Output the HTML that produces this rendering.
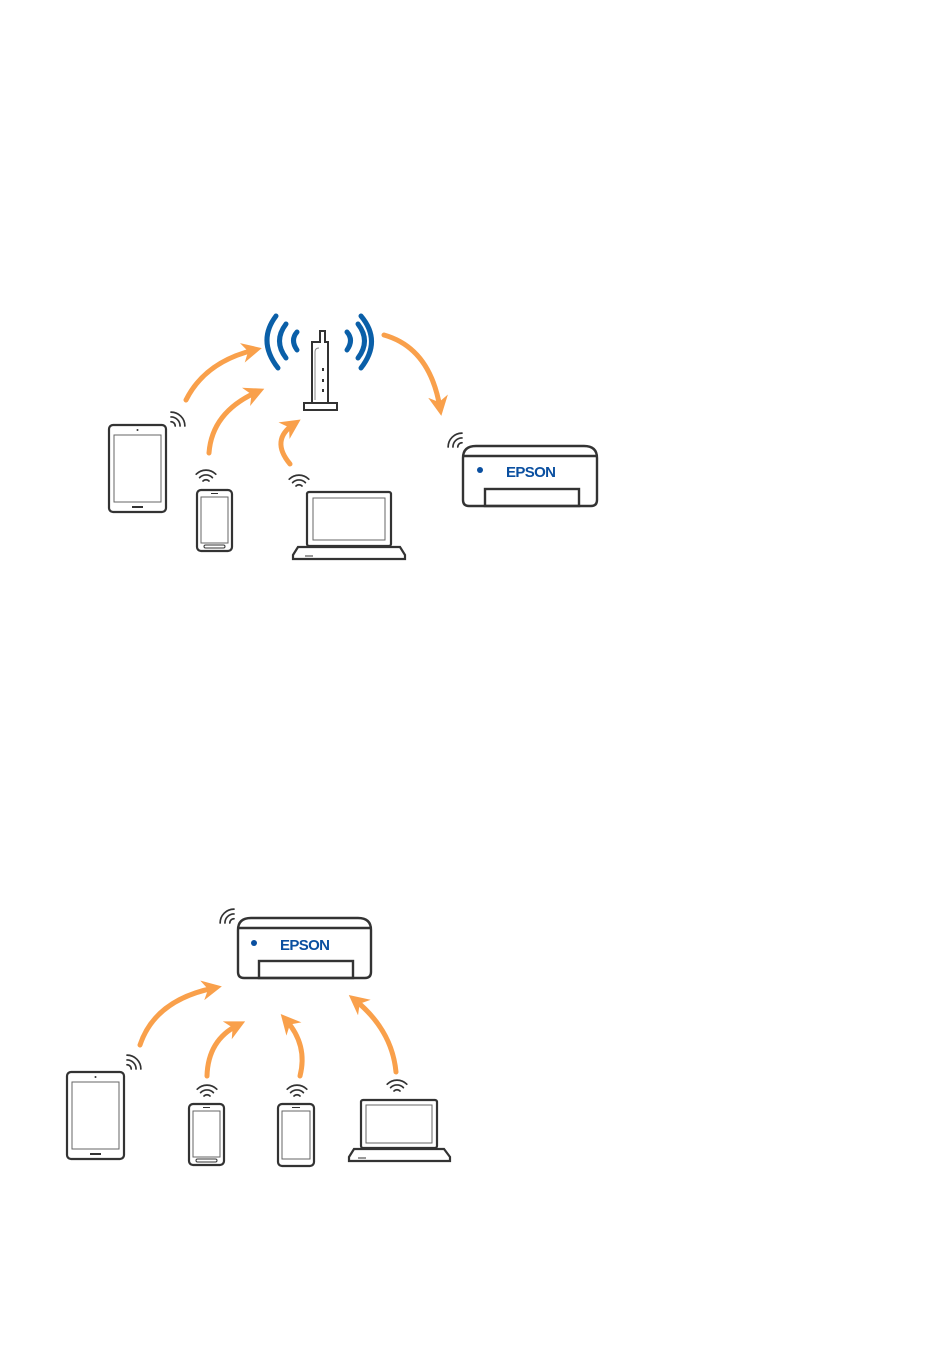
<!DOCTYPE html>
<html><head><meta charset="utf-8"><style>html,body{margin:0;padding:0;background:#fff}svg{display:block}</style></head>
<body>
<svg width="950" height="1370" viewBox="0 0 950 1370" xmlns="http://www.w3.org/2000/svg">
<defs>
<marker id="ah" viewBox="0 0 10 10" refX="6" refY="5" markerWidth="4" markerHeight="4" orient="auto" markerUnits="strokeWidth">
<path d="M0,0 L10,5 L0,10 L3,5 z" fill="#f9a04b"/>
</marker>
<g id="wf" fill="none" stroke="#333" stroke-width="1.7" stroke-linecap="round">
<path d="M-3,-3 A4.2 4.2 0 0 1 3,-3"/>
<path d="M-6.4,-6.4 A9 9 0 0 1 6.4,-6.4"/>
<path d="M-9.8,-9.8 A13.8 13.8 0 0 1 9.8,-9.8"/>
</g>
<g id="tab" fill="none" stroke="#333">
<rect x="0" y="0" width="57" height="87" rx="4" stroke-width="2.2"/>
<rect x="5" y="10" width="47" height="67" stroke-width="1" stroke="#666"/>
<circle cx="28.5" cy="5" r="1" fill="#333" stroke="none"/>
<line x1="23" y1="82" x2="34" y2="82" stroke-width="2"/>
</g>
<g id="ph" fill="none" stroke="#333">
<rect x="0" y="0" width="35" height="61" rx="4" stroke-width="2.2"/>
<rect x="4" y="7" width="27" height="46" stroke-width="1" stroke="#666"/>
<line x1="14" y1="3.5" x2="21" y2="3.5" stroke-width="1"/>
<rect x="7" y="55" width="21" height="3" rx="1.5" stroke-width="1"/>
</g>
<g id="ph2" fill="none" stroke="#333">
<rect x="0" y="0" width="36" height="62" rx="4" stroke-width="2.2"/>
<rect x="4" y="7" width="28" height="48" stroke-width="1" stroke="#666"/>
<line x1="14" y1="3.5" x2="22" y2="3.5" stroke-width="1"/>
</g>
</defs>

<!-- router -->
<g fill="none" stroke="#333" stroke-width="2">
<rect x="304" y="403" width="33" height="7" fill="#fff"/>
<path d="M312,403 L312,342 L320,342 L320,331 L325,331 L325,342 L328,342 L328,403"/>
<path d="M315,400 L315,352 Q315,348 319,348" stroke-width="1" stroke="#888"/>
</g>
<g fill="#333"><rect x="322" y="368" width="2" height="3"/><rect x="322" y="379" width="2" height="3"/><rect x="322" y="389" width="2" height="3"/></g>
<g fill="none" stroke="#0a5fa8" stroke-width="5" stroke-linecap="round">
<path d="M297,332 Q290,340 297,350"/>
<path d="M286,324 Q273,341 286,358"/>
<path d="M276,316 Q257,341 278,368"/>
<path d="M347,332 Q354,340 347,350"/>
<path d="M358,324 Q371,341 358,358"/>
<path d="M361,316 Q382,341 361,368"/>
</g>
<g fill="none" stroke="#f9a04b" stroke-width="5" stroke-linecap="round">
<path d="M186,400 Q205,362 254,350" marker-end="url(#ah)"/>
<path d="M209,453 Q212,412 257,392" marker-end="url(#ah)"/>
<path d="M290,464 Q270,440 294,424" marker-end="url(#ah)"/>
<path d="M384,335 Q430,348 440,408" marker-end="url(#ah)"/>
</g>
<use href="#tab" x="109" y="425"/>
<use href="#ph" x="197" y="490"/>
<g fill="none" stroke="#333">
<rect x="307" y="492" width="84" height="54" rx="2" stroke-width="2.2"/>
<rect x="313" y="498" width="72" height="42" stroke-width="1" stroke="#666"/>
<path d="M298,547 L400,547 L405,555 L405,559 L293,559 L293,555 Z" stroke-width="2.2"/>
<line x1="305" y1="556" x2="313" y2="556" stroke-width="1"/>
</g>
<g fill="none" stroke="#333" stroke-width="2.4">
<path d="M463,500 L463,458 Q463,446 476,446 L584,446 Q597,446 597,458 L597,500 Q597,506 591,506 L469,506 Q463,506 463,500 Z"/>
<line x1="463" y1="456" x2="597" y2="456"/>
<rect x="485" y="489" width="94" height="17"/>
</g>
<circle cx="480" cy="470" r="3" fill="#0a4fa0"/>
<text x="531" y="477" text-anchor="middle" font-family="Liberation Sans, sans-serif" font-weight="bold" font-size="15" fill="#0a4fa0" textLength="50">EPSON</text>
<use href="#wf" transform="translate(171,426) rotate(45)"/>
<use href="#wf" transform="translate(206,484)"/>
<use href="#wf" transform="translate(299,489)"/>
<use href="#wf" transform="translate(462,447) rotate(-45)"/>

<!-- bottom -->
<g fill="none" stroke="#333" stroke-width="2.4">
<path d="M238,972 L238,930 Q238,918 251,918 L358,918 Q371,918 371,930 L371,972 Q371,978 365,978 L244,978 Q238,978 238,972 Z"/>
<line x1="238" y1="928" x2="371" y2="928"/>
<rect x="259" y="961" width="94" height="17"/>
</g>
<circle cx="254" cy="943" r="3" fill="#0a4fa0"/>
<text x="305" y="950" text-anchor="middle" font-family="Liberation Sans, sans-serif" font-weight="bold" font-size="15" fill="#0a4fa0" textLength="50">EPSON</text>
<g fill="none" stroke="#f9a04b" stroke-width="5" stroke-linecap="round">
<path d="M140,1045 Q155,1000 214,988" marker-end="url(#ah)"/>
<path d="M207,1076 Q208,1040 238,1025" marker-end="url(#ah)"/>
<path d="M300,1076 Q308,1045 286,1020" marker-end="url(#ah)"/>
<path d="M396,1072 Q392,1030 355,1000" marker-end="url(#ah)"/>
</g>
<use href="#tab" x="67" y="1072"/>
<use href="#ph" x="189" y="1104"/>
<use href="#ph2" x="278" y="1104"/>
<g fill="none" stroke="#333">
<rect x="361" y="1100" width="76" height="48" rx="2" stroke-width="2.2"/>
<rect x="366" y="1105" width="66" height="38" stroke-width="1" stroke="#666"/>
<path d="M354,1149 L444,1149 L450,1157 L450,1161 L349,1161 L349,1157 Z" stroke-width="2.2"/>
<line x1="358" y1="1158" x2="366" y2="1158" stroke-width="1"/>
</g>
<use href="#wf" transform="translate(234,923) rotate(-45)"/>
<use href="#wf" transform="translate(127,1069) rotate(45)"/>
<use href="#wf" transform="translate(207,1099)"/>
<use href="#wf" transform="translate(297,1099)"/>
<use href="#wf" transform="translate(397,1094)"/>
</svg>
</body></html>
